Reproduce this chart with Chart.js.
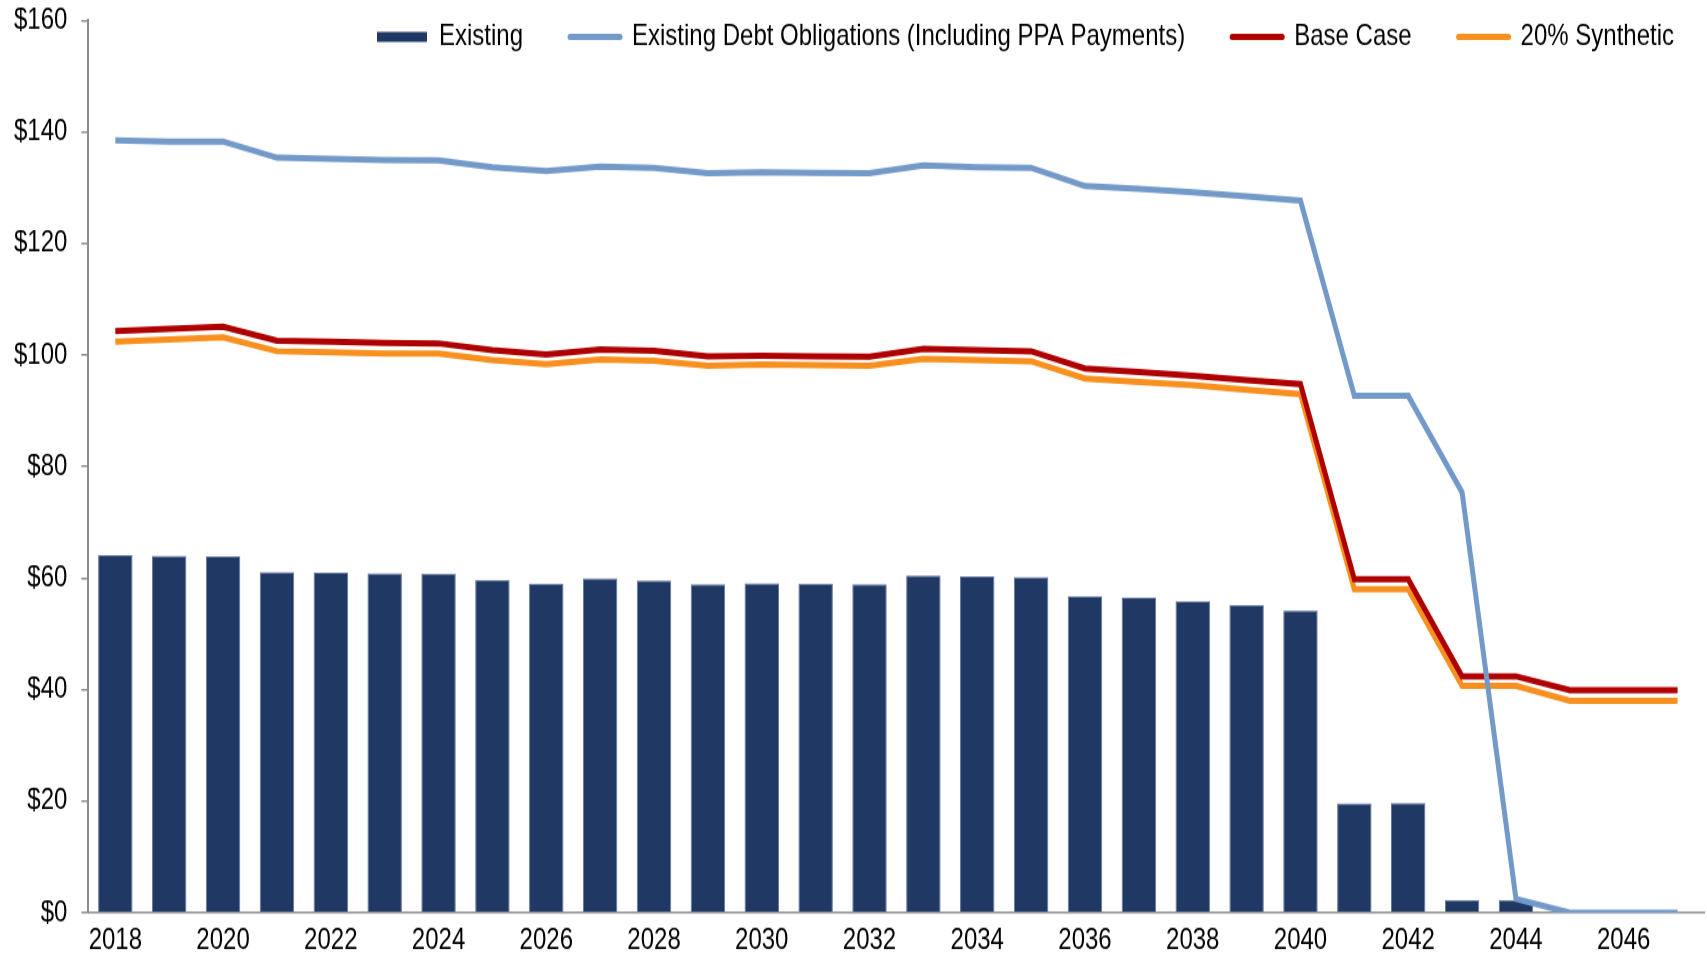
<!DOCTYPE html>
<html>
<head>
<meta charset="utf-8">
<script src="https://cdn.jsdelivr.net/npm/chart.js@4/dist/chart.umd.min.js"></script>
<style>
  html { overflow: hidden; }
  html, body { margin: 0; padding: 0; background: #fff; }
  body { height: 954px; }
  /* the source chart is a vertically stretched picture, so stretch ours too */
  #wrap { width: 1707px; height: 763px; transform: scaleY(1.2503); transform-origin: 0 0; }
  #debtChart { display: block; width: 1707px; height: 763px; }
</style>
</head>
<body>
<div id="wrap"><canvas id="debtChart" width="1707" height="763"></canvas></div>
<script>
const years = ['2018','2019','2020','2021','2022','2023','2024','2025','2026','2027',
  '2028','2029','2030','2031','2032','2033','2034','2035','2036','2037',
  '2038','2039','2040','2041','2042','2043','2044','2045','2046','2047'];

const existing = [64.1, 64.0, 63.9, 61.1, 61.0, 60.9, 60.8, 59.7, 59.0, 60.0,
  59.6, 58.9, 59.1, 59.0, 58.9, 60.5, 60.3, 60.2, 56.8, 56.5,
  55.9, 55.2, 54.2, 19.6, 19.7, 2.3, 2.3, 0, 0, 0];

const debtObligations = [138.5, 138.3, 138.3, 135.4, 135.2, 135.0, 134.9, 133.7, 133.0, 133.8,
  133.6, 132.6, 132.8, 132.7, 132.6, 134.0, 133.7, 133.6, 130.3, 129.8,
  129.2, 128.5, 127.7, 92.7, 92.7, 75.4, 2.5, 0, 0, 0];

const baseCase = [104.3, 104.7, 105.1, 102.6, 102.4, 102.2, 102.1, 100.9, 100.1, 101.0,
  100.8, 99.8, 99.9, 99.8, 99.7, 101.1, 100.9, 100.7, 97.6, 97.0,
  96.3, 95.5, 94.8, 59.8, 59.8, 42.4, 42.4, 39.9, 39.9, 39.9];

const synthetic20 = [102.4, 102.8, 103.2, 100.7, 100.5, 100.3, 100.3, 99.1, 98.4, 99.2,
  99.0, 98.1, 98.3, 98.2, 98.1, 99.3, 99.1, 98.9, 95.8, 95.2,
  94.6, 93.8, 93.0, 58.0, 58.0, 40.7, 40.7, 38.0, 38.0, 38.0];

const FONT = "'Liberation Sans', Arial, sans-serif";
const NAVY = '#203864';
const BLUE = '#7399C9';
const RED = '#AE0000';
const ORANGE = '#F7901E';
const AXIS = '#8C8C8C';
const LINE_W = 5;

// legend sits inside the plot area, top right
const legendShift = {
  id: 'legendShift',
  beforeDraw(chart) {
    const lg = chart.legend;
    if (!lg) return;
    const pad = lg.options.labels.padding;
    lg.top = 29.6 - 12 - pad;
    lg.left = 0;
    lg.right = 1674 + pad;
  }
};

const chart = new Chart(document.getElementById('debtChart'), {
  type: 'bar',
  data: {
    labels: years,
    datasets: [
      {
        type: 'bar',
        label: 'Existing',
        data: existing,
        backgroundColor: NAVY,
        borderColor: '#6478A3',
        borderWidth: 1,
        categoryPercentage: 1,
        barPercentage: 0.64,
        order: 4
      },
      {
        type: 'line',
        label: 'Existing Debt Obligations (Including PPA Payments)',
        data: debtObligations,
        borderColor: BLUE,
        backgroundColor: BLUE,
        borderWidth: LINE_W,
        pointRadius: 0,
        tension: 0,
        order: 1
      },
      {
        type: 'line',
        label: 'Base Case',
        data: baseCase,
        borderColor: RED,
        backgroundColor: RED,
        borderWidth: LINE_W,
        pointRadius: 0,
        tension: 0,
        order: 2
      },
      {
        type: 'line',
        label: '20% Synthetic',
        data: synthetic20,
        borderColor: ORANGE,
        backgroundColor: ORANGE,
        borderWidth: LINE_W,
        pointRadius: 0,
        tension: 0,
        order: 3
      }
    ]
  },
  options: {
    responsive: false,
    animation: false,
    devicePixelRatio: 1,
    layout: { padding: { top: 6, left: 0, right: -6, bottom: -11 } },
    plugins: {
      tooltip: { enabled: false },
      legend: {
        position: 'chartArea',
        align: 'end',
        labels: {
          font: { family: FONT, size: 24, lineHeight: 1 },
          color: '#000',
          padding: 47,
          usePointStyle: true,
          pointStyleWidth: 50,
          boxHeight: 8,
          generateLabels(chart) {
            return chart.data.datasets.map((ds, i) => ({
              text: ds.label,
              fillStyle: ds.type === 'bar' ? NAVY : ds.borderColor,
              strokeStyle: ds.type === 'bar' ? NAVY : ds.borderColor,
              lineWidth: ds.type === 'bar' ? 0 : LINE_W,
              lineCap: 'round',
              pointStyle: ds.type === 'bar' ? 'rect' : 'line',
              fontColor: '#000',
              datasetIndex: i
            }));
          }
        }
      }
    },
    scales: {
      x: {
        offset: true,
        grid: { display: false, drawTicks: false },
        border: { display: true, color: AXIS, width: 1.6 },
        ticks: {
          autoSkip: false,
          maxRotation: 0,
          padding: 10,
          color: '#000',
          font: { family: FONT, size: 24, lineHeight: 1 },
          callback: (v, i) => (i % 2 === 0 ? years[i] : '')
        }
      },
      y: {
        min: 0,
        max: 160,
        grid: { display: true, drawOnChartArea: false, drawTicks: true, tickLength: 7, color: AXIS, lineWidth: 1.5 },
        border: { display: true, color: AXIS, width: 2 },
        ticks: {
          stepSize: 20,
          padding: 14,
          color: '#000',
          font: { family: FONT, size: 24, lineHeight: 0.2 },
          callback: v => '$' + v
        }
      }
    }
  },
  plugins: [legendShift]
});

// lay the in-plot legend out as one row
chart.legend.isHorizontal = () => true;
chart.update();
</script>
</body>
</html>
